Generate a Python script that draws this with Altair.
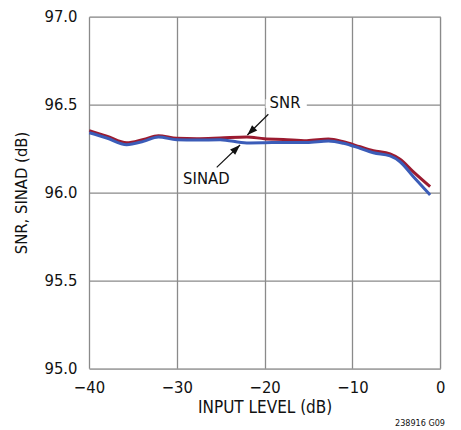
import altair as alt
import pandas as pd

# ---- data ----
input_level = [-39.97, -37.98, -35.71, -33.8, -32.1, -30.0, -27.73, -25.08, -22.04,
               -20.03, -17.87, -15.2, -12.74, -11.03, -9.13, -7.62, -5.72, -4.58,
               -3.06, -1.16]
snr = [96.352, 96.321, 96.283, 96.302, 96.323, 96.308, 96.306, 96.31, 96.316,
       96.306, 96.302, 96.295, 96.304, 96.289, 96.26, 96.238, 96.219, 96.189,
       96.117, 96.033]
sinad = [96.34, 96.31, 96.272, 96.291, 96.316, 96.30, 96.298, 96.30, 96.282,
         96.283, 96.285, 96.285, 96.293, 96.28, 96.251, 96.226, 96.208, 96.175,
         96.09, 95.986]

x_ticks = [-40, -30, -20, -10, 0]
y_ticks = [95.0, 95.5, 96.0, 96.5, 97.0]

# annotations (data units)
label_text = ["SNR", "SINAD"]
label_x = [-17.68, -26.64]
label_y = [96.509, 96.077]
arrow_x = [-19.58, -25.46]
arrow_y = [96.445, 96.143]
arrow_x2 = [-21.97, -22.8]
arrow_y2 = [96.327, 96.270]
arrow_angle = [225.4, 46.3]

RED = "#9b1b30"
BLUE = "#3b5cb8"
FONT = "DejaVu Sans Condensed, sans-serif"

df = pd.DataFrame({
    "x": input_level * 2,
    "y": snr + sinad,
    "s": ["SNR"] * len(snr) + ["SINAD"] * len(sinad),
})
ann = pd.DataFrame({"t": label_text, "x": label_x, "y": label_y})
arr = pd.DataFrame({"x": arrow_x, "y": arrow_y, "x2": arrow_x2, "y2": arrow_y2,
                    "a": arrow_angle})
box = pd.DataFrame({"x": [-19.9], "x2": [-15.2], "y": [96.48], "y2": [96.53]})

xs = alt.Scale(domain=[-40, 0], nice=False, zero=False)
ys = alt.Scale(domain=[95, 97], nice=False, zero=False)

xaxis = alt.Axis(values=x_ticks, format="d", title="INPUT LEVEL (dB)",
                 labelFontSize=16.5, labelPadding=11, labelColor="#111",
                 ticks=False, tickSize=0, domain=False, grid=True,
                 gridColor="#8a8a8a", gridWidth=1.3,
                 titleFontSize=17, titleFontWeight="normal", titleColor="#111",
                 titleY=44.4, titleBaseline="alphabetic", labelFont=FONT,
                 titleFont=FONT, labelFlush=False)
yaxis = alt.Axis(values=y_ticks, format=".1f", title="SNR, SINAD (dB)",
                 labelFontSize=16.5, labelPadding=12, labelColor="#111",
                 ticks=False, tickSize=0, domain=False, grid=True,
                 gridColor="#8a8a8a", gridWidth=1.3,
                 titleFontSize=16.5, titleFontWeight="normal", titleColor="#111",
                 titleX=-62, titleY=175.8, titleAngle=270, titleAlign="center",
                 titleBaseline="alphabetic", labelFont=FONT, titleFont=FONT,
                 labelFlush=False)

base = alt.Chart(df).encode(
    x=alt.X("x:Q", scale=xs, axis=xaxis),
    y=alt.Y("y:Q", scale=ys, axis=yaxis),
)

lines = base.mark_line(strokeWidth=3, interpolate="monotone").encode(
    color=alt.Color("s:N", scale=alt.Scale(domain=["SINAD", "SNR"], range=[BLUE, RED]),
                    legend=None),
    order=alt.Order("x:Q"),
    detail="s:N",
)

white = alt.Chart(box).mark_rect(color="white").encode(
    x=alt.X("x:Q", scale=xs), x2="x2", y=alt.Y("y:Q", scale=ys), y2="y2")

texts = alt.Chart(ann).mark_text(fontSize=16.5, font=FONT, color="#111",
                                 baseline="middle", align="center").encode(
    x=alt.X("x:Q", scale=xs), y=alt.Y("y:Q", scale=ys), text="t:N")

shafts = alt.Chart(arr).mark_rule(color="#111", strokeWidth=1.2).encode(
    x=alt.X("x:Q", scale=xs), y=alt.Y("y:Q", scale=ys), x2="x2", y2="y2")

heads = alt.Chart(arr).mark_point(shape="M0,0L-0.36,1L0.36,1Z", filled=True,
                                  color="#111", size=420, opacity=1).encode(
    x=alt.X("x2:Q", scale=xs), y=alt.Y("y2:Q", scale=ys),
    angle=alt.Angle("a:Q", scale=None))

fig = alt.Chart(pd.DataFrame({"t": ["238916 G09"]})).mark_text(
    fontSize=9, font=FONT, color="#111", align="right", baseline="alphabetic"
).encode(x=alt.value(356), y=alt.value(409), text="t:N")

chart = alt.layer(white, lines, shafts, heads, texts, fig).properties(
    width=351.3, height=351.6,
    autosize=alt.AutoSizeParams(type="none"),
    padding={"left": 81, "top": 8.7, "right": 12, "bottom": 62},
).configure_view(stroke="#333", strokeWidth=2).configure(background="white")

chart.save("out.html", embed_options={"renderer": "svg", "actions": False})
